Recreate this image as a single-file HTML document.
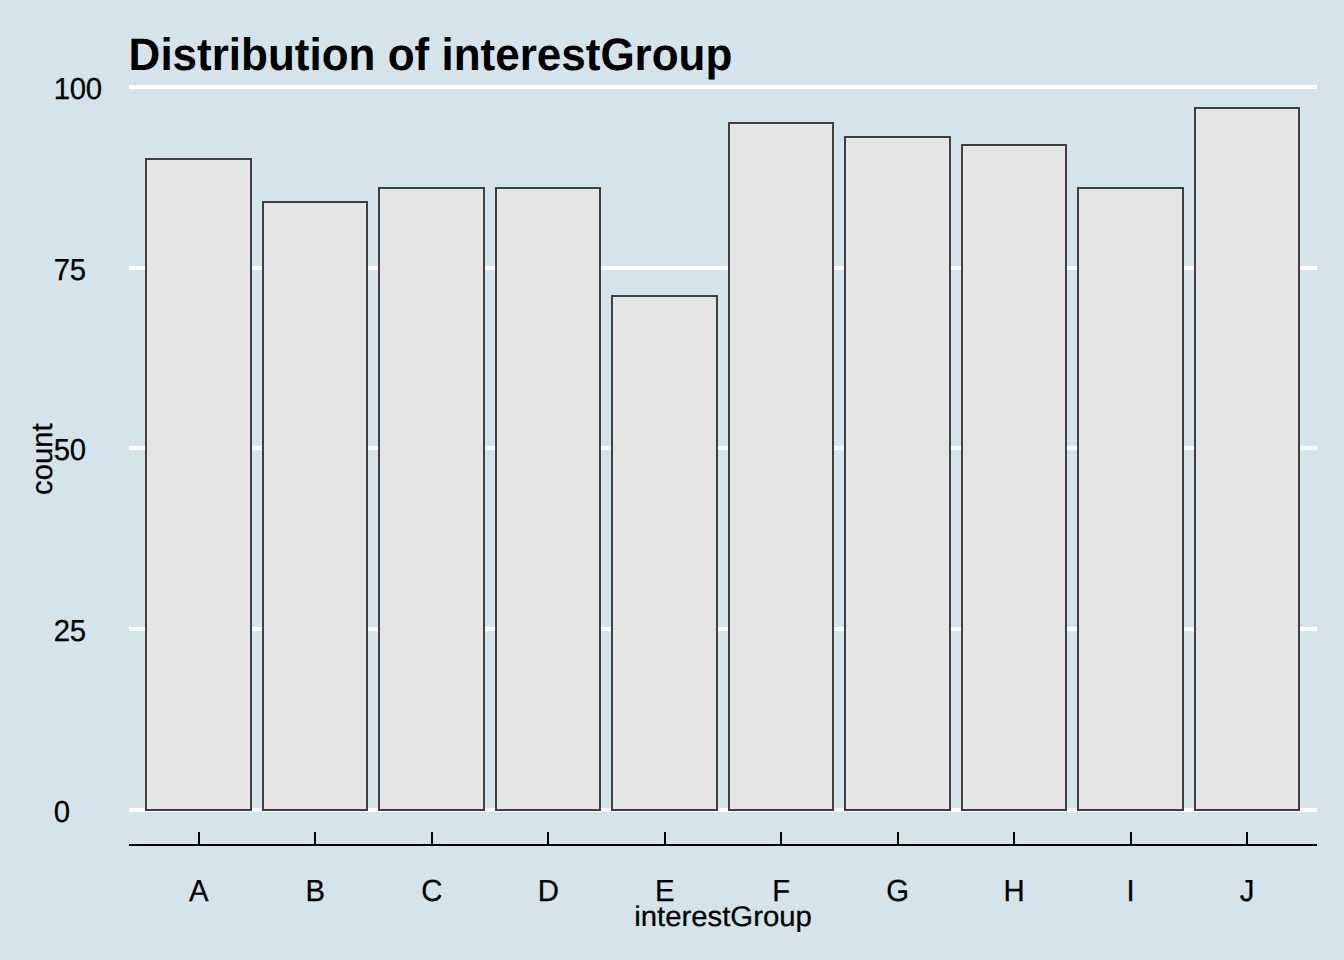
<!DOCTYPE html>
<html><head><meta charset="utf-8"><title>Distribution of interestGroup</title>
<style>
html,body{margin:0;padding:0;background:#d5e4eb;}
body{width:1344px;height:960px;overflow:hidden;}
svg{display:block;}
text{font-family:"Liberation Sans",Arial,sans-serif;fill:#000;text-rendering:geometricPrecision;}
.t{font-size:44px;font-weight:bold;}
.a{font-size:29.33px;stroke:#000;stroke-width:0.25px;}
.y{letter-spacing:-0.3px;}
</style></head><body>
<svg width="1344" height="960" viewBox="0 0 1344 960">
<rect x="0" y="0" width="1344" height="960" fill="#d5e4eb"/>
<rect x="129" y="85" width="1188" height="4" fill="#ffffff" shape-rendering="crispEdges"/>
<rect x="129" y="266" width="1188" height="4" fill="#ffffff" shape-rendering="crispEdges"/>
<rect x="129" y="446" width="1188" height="4" fill="#ffffff" shape-rendering="crispEdges"/>
<rect x="129" y="627" width="1188" height="4" fill="#ffffff" shape-rendering="crispEdges"/>
<rect x="129" y="808" width="1188" height="4" fill="#ffffff" shape-rendering="crispEdges"/>
<rect x="146" y="159" width="105" height="651" fill="#e5e5e5" stroke="#404040" stroke-width="2" shape-rendering="crispEdges"/>
<rect x="263" y="202" width="104" height="608" fill="#e5e5e5" stroke="#404040" stroke-width="2" shape-rendering="crispEdges"/>
<rect x="379" y="188" width="105" height="622" fill="#e5e5e5" stroke="#404040" stroke-width="2" shape-rendering="crispEdges"/>
<rect x="496" y="188" width="104" height="622" fill="#e5e5e5" stroke="#404040" stroke-width="2" shape-rendering="crispEdges"/>
<rect x="612" y="296" width="105" height="514" fill="#e5e5e5" stroke="#404040" stroke-width="2" shape-rendering="crispEdges"/>
<rect x="729" y="123" width="104" height="687" fill="#e5e5e5" stroke="#404040" stroke-width="2" shape-rendering="crispEdges"/>
<rect x="845" y="137" width="105" height="673" fill="#e5e5e5" stroke="#404040" stroke-width="2" shape-rendering="crispEdges"/>
<rect x="962" y="145" width="104" height="665" fill="#e5e5e5" stroke="#404040" stroke-width="2" shape-rendering="crispEdges"/>
<rect x="1078" y="188" width="105" height="622" fill="#e5e5e5" stroke="#404040" stroke-width="2" shape-rendering="crispEdges"/>
<rect x="1195" y="108" width="104" height="702" fill="#e5e5e5" stroke="#404040" stroke-width="2" shape-rendering="crispEdges"/>
<rect x="129" y="844" width="1188" height="2" fill="#000" shape-rendering="crispEdges"/>
<rect x="198" y="832" width="2" height="13" fill="#000" shape-rendering="crispEdges"/>
<rect x="314" y="832" width="2" height="13" fill="#000" shape-rendering="crispEdges"/>
<rect x="431" y="832" width="2" height="13" fill="#000" shape-rendering="crispEdges"/>
<rect x="547" y="832" width="2" height="13" fill="#000" shape-rendering="crispEdges"/>
<rect x="664" y="832" width="2" height="13" fill="#000" shape-rendering="crispEdges"/>
<rect x="780" y="832" width="2" height="13" fill="#000" shape-rendering="crispEdges"/>
<rect x="897" y="832" width="2" height="13" fill="#000" shape-rendering="crispEdges"/>
<rect x="1013" y="832" width="2" height="13" fill="#000" shape-rendering="crispEdges"/>
<rect x="1130" y="832" width="2" height="13" fill="#000" shape-rendering="crispEdges"/>
<rect x="1246" y="832" width="2" height="13" fill="#000" shape-rendering="crispEdges"/>
<text class="a" transform="translate(198.88,901.00) scale(1.0,1.04)" text-anchor="middle">A</text>
<text class="a" transform="translate(315.35,901.00) scale(1.0,1.04)" text-anchor="middle">B</text>
<text class="a" transform="translate(431.82,901.00) scale(1.0,1.04)" text-anchor="middle">C</text>
<text class="a" transform="translate(548.29,901.00) scale(1.0,1.04)" text-anchor="middle">D</text>
<text class="a" transform="translate(664.76,901.00) scale(1.0,1.04)" text-anchor="middle">E</text>
<text class="a" transform="translate(781.24,901.00) scale(1.0,1.04)" text-anchor="middle">F</text>
<text class="a" transform="translate(897.71,901.00) scale(1.0,1.04)" text-anchor="middle">G</text>
<text class="a" transform="translate(1014.18,901.00) scale(1.0,1.04)" text-anchor="middle">H</text>
<text class="a" transform="translate(1130.65,901.00) scale(1.0,1.04)" text-anchor="middle">I</text>
<text class="a" transform="translate(1247.12,901.00) scale(1.0,1.04)" text-anchor="middle">J</text>
<text class="a y" transform="translate(53.70,99.00) scale(1.0,1.035)">100</text>
<text class="a y" transform="translate(53.70,280.00) scale(1.0,1.035)">75</text>
<text class="a y" transform="translate(53.70,460.00) scale(1.0,1.035)">50</text>
<text class="a y" transform="translate(53.70,641.00) scale(1.0,1.035)">25</text>
<text class="a y" transform="translate(53.70,822.00) scale(1.0,1.035)">0</text>
<text class="t" transform="translate(128.60,69.70) scale(1.0,1.035)">Distribution of interestGroup</text>
<text class="a" transform="translate(723.00,925.50) scale(1.0,0.97)" text-anchor="middle">interestGroup</text>
<text class="a" transform="translate(51.50,459.20) rotate(-90) scale(0.995,1.01)" text-anchor="middle">count</text>
</svg></body></html>
